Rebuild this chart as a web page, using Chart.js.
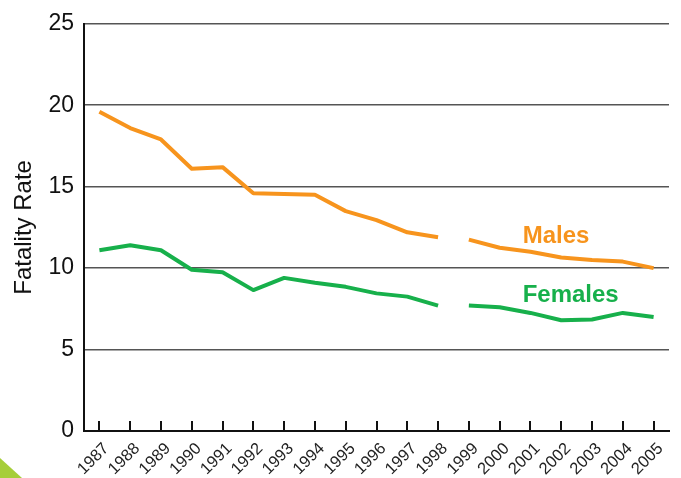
<!DOCTYPE html>
<html>
<head>
<meta charset="utf-8">
<title>Fatality Rate</title>
<script src="https://cdn.jsdelivr.net/npm/chart.js@4.4.0/dist/chart.umd.min.js"></script>
<style>
  html, body { margin: 0; padding: 0; background: #fff; }
  #wrap { position: relative; width: 681px; height: 478px; overflow: hidden; }
</style>
</head>
<body>
<div id="wrap"><canvas id="chart"></canvas></div>
<script>
// Data
const years = ['1987', '1988', '1989', '1990', '1991', '1992', '1993', '1994', '1995', '1996',
               '1997', '1998', '1999', '2000', '2001', '2002', '2003', '2004', '2005'];
const males = [19.6, 18.6, 17.9, 16.1, 16.2, 14.6, 14.55, 14.5, 13.5, 12.95,
               12.2, 11.9, 11.75, 11.25, 11.0, 10.65, 10.5, 10.4, 10.0];
const females = [11.1, 11.4, 11.1, 9.9, 9.75, 8.65, 9.4, 9.1, 8.85, 8.45,
                 8.25, 7.7, 7.7, 7.6, 7.25, 6.8, 6.85, 7.25, 7.0];
const yTicks = [0, 5, 10, 15, 20, 25];
// the line is broken between these years
const breakAfter = ['1998'];

const ORANGE = '#F7941D';
const GREEN = '#17B04B';
const FONT = "'Liberation Sans', Arial, Helvetica, sans-serif";

const breakIdx = breakAfter.map(y => years.indexOf(y));
const gapSegment = {
    borderColor: ctx => breakIdx.includes(ctx.p0DataIndex) ? 'rgba(0,0,0,0)' : undefined
};

// Series names written next to the lines
const seriesLabels = [
    { text: 'Males', color: ORANGE, year: '2000', value: 11.55 },
    { text: 'Females', color: GREEN, year: '2000', value: 7.95 }
];

// Tick marks pointing up into the plot + text labels + corner decoration
const extrasPlugin = {
    id: 'extras',
    afterDatasetsDraw(chart) {
        const { ctx, scales: { x, y }, chartArea } = chart;
        ctx.save();
        ctx.strokeStyle = '#111';
        ctx.lineWidth = 2;
        years.forEach((yr, i) => {
            const px = Math.round(x.getPixelForValue(i));
            ctx.beginPath();
            ctx.moveTo(px, chartArea.bottom);
            ctx.lineTo(px, chartArea.bottom - 10);
            ctx.stroke();
        });
        ctx.font = 'bold 24px ' + FONT;
        ctx.textAlign = 'left';
        ctx.textBaseline = 'alphabetic';
        seriesLabels.forEach(l => {
            ctx.fillStyle = l.color;
            ctx.fillText(l.text, x.getPixelForValue(years.indexOf(l.year)) + 23, y.getPixelForValue(l.value));
        });
        ctx.fillStyle = '#A6CE39';
        ctx.beginPath();
        ctx.moveTo(0, 458);
        ctx.lineTo(22, 478);
        ctx.lineTo(0, 478);
        ctx.closePath();
        ctx.fill();
        ctx.restore();
    }
};

new Chart(document.getElementById('chart'), {
    type: 'line',
    data: {
        labels: years,
        datasets: [
            {
                label: 'Males',
                data: males,
                borderColor: ORANGE,
                borderWidth: 4,
                pointRadius: 0,
                tension: 0,
                borderJoinStyle: 'round',
                segment: gapSegment
            },
            {
                label: 'Females',
                data: females,
                borderColor: GREEN,
                borderWidth: 4,
                pointRadius: 0,
                tension: 0,
                borderJoinStyle: 'round',
                segment: gapSegment
            }
        ]
    },
    options: {
        responsive: true,
        maintainAspectRatio: false,
        animation: false,
        layout: { padding: { top: 20, right: 12, bottom: 0, left: 0 } },
        plugins: {
            legend: { display: false },
            tooltip: { enabled: false }
        },
        scales: {
            x: {
                offset: true,
                grid: { drawOnChartArea: false, drawTicks: false },
                border: { color: '#111', width: 2 },
                ticks: {
                    color: '#222',
                    font: { family: FONT, size: 16.5 },
                    minRotation: 45,
                    maxRotation: 45,
                    padding: 8,
                    labelOffset: 7,
                    autoSkip: false
                },
                afterFit(scale) { scale.height = 47; }
            },
            y: {
                min: 0,
                max: 25,
                afterBuildTicks(scale) { scale.ticks = yTicks.map(v => ({ value: v })); },
                grid: { color: '#555', lineWidth: 1.5, drawTicks: false },
                border: { color: '#111', width: 2 },
                ticks: {
                    color: '#111',
                    font: { family: FONT, size: 23 },
                    padding: 10
                },
                title: {
                    display: true,
                    text: 'Fatality Rate',
                    color: '#111',
                    font: { family: FONT, size: 24 },
                    padding: { top: 10, bottom: 4 }
                },
                afterFit(scale) { scale.width = 84; }
            }
        }
    },
    plugins: [extrasPlugin]
});
</script>
</body>
</html>
